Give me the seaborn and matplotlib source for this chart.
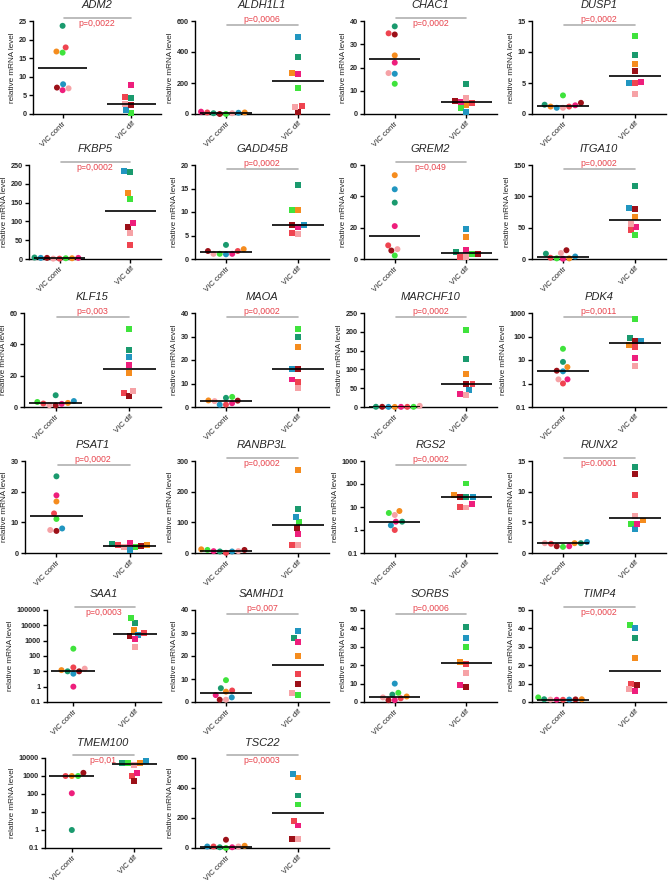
import numpy as np
import pandas as pd
import matplotlib
matplotlib.use("Agg")
import matplotlib.pyplot as plt
import seaborn as sns
from matplotlib.transforms import blended_transform_factory
from matplotlib.ticker import NullLocator

nan = np.nan
groups = ["VIC contr", "VIC dif"]
donors = ["D1", "D2", "D3", "D4", "D5", "D6", "D7", "D8"]
donor_colors = ["#1a9a6e", "#ef4450", "#f58c1e", "#3fe33c", "#2196c0", "#9c1018", "#ee1e7c", "#f6a2a6"]

genes = ["ADM2", "ALDH1L1", "CHAC1", "DUSP1", "FKBP5", "GADD45B", "GREM2", "ITGA10",
         "KLF15", "MAOA", "MARCHF10", "PDK4", "PSAT1", "RANBP3L", "RGS2", "RUNX2",
         "SAA1", "SAMHD1", "SORBS", "TIMP4", "TMEM100", "TSC22"]

p_labels = ["p=0,0022", "p=0,0006", "p=0,0002", "p=0,0002", "p=0,0002", "p=0,0002", "p=0,049", "p=0,0002",
            "p=0,003", "p=0,0002", "p=0,0002", "p=0,0011", "p=0,0002", "p=0,0002", "p=0,0002", "p=0.0001",
            "p=0,0003", "p=0,007", "p=0,0006", "p=0,0002", "p=0,01", "p=0,0003"]

p_text_above = [False, True, False, True, False, True, False, True,
                True, True, True, True, True, False, True, False,
                False, True, True, False, False, False]

log_axis = [False, False, False, False, False, False, False, False,
            False, False, False, True, False, False, True, False,
            True, False, False, False, True, False]

y_ticks = [
    [0, 5, 10, 15, 20, 25], [0, 200, 400, 600], [0, 10, 20, 30, 40], [0, 5, 10, 15],
    [0, 50, 100, 150, 200, 250], [0, 5, 10, 15, 20], [0, 20, 40, 60], [0, 50, 100, 150],
    [0, 20, 40, 60], [0, 10, 20, 30, 40], [0, 50, 100, 150, 200, 250], [0.1, 1, 10, 100, 1000],
    [0, 10, 20, 30], [0, 100, 200, 300], [0.1, 1, 10, 100, 1000], [0, 5, 10, 15],
    [0.1, 1, 10, 100, 1000, 10000, 100000], [0, 10, 20, 30, 40], [0, 10, 20, 30, 40, 50],
    [0, 10, 20, 30, 40, 50], [0.1, 1, 10, 100, 1000, 10000], [0, 200, 400, 600],
]

# values per donor (D1..D8)
contr_values = [
    [23.7, 17.9, 16.8, 16.5, 8.0, 7.1, 6.4, 6.9],
    [5, 10, 10, 0, 8, 0, 15, 5],
    [37.7, 34.7, 25.2, 13.0, 17.3, 34.2, 22.1, 17.6],
    [1.5, 1.2, 1.2, 3.0, 1.0, 1.8, 1.4, 1.0],
    [4, 1, 2, 2, 3, 3, 3, 1],
    [3.0, 1.7, 2.1, 1.1, 1.0, 1.7, 1.1, 1.1],
    [36, 8.7, 53.5, 2.2, 44.5, 5.4, 21, 6.3],
    [8.5, 2, 1, 1, 4, 14, 0.5, 9.5],
    [7.5, 2.2, 2.6, 3.2, 3.8, 1.0, 2.0, 1.2],
    [3.9, 1.0, 2.8, 4.3, 1.0, 2.7, 1.6, 2.5],
    [0.6, 0.4, 0.2, 0.5, 0.3, 0.5, 0.4, 3.0],
    [8.3, 1.0, 5.0, 30, 3.3, 3.5, 1.5, 1.5],
    [25, 12.9, 16.8, 11.1, 8.0, 7.2, 18.8, 7.5],
    [5, 0.5, 12, 10, 5, 10, 6, 6],
    [2.3, 1.0, 6.7, 5.5, 1.6, nan, 2.3, 4.5],
    [1.6, 1.5, 1.6, 1.0, 1.8, 1.1, 1.1, 1.6],
    [10, 18, 12, 300, 7, 10, 1.0, 15],
    [6, 5, 4.5, 9.5, 2, 1, 3, 1],
    [4, 2, 3, 5, 10, 1, 1, 2.5],
    [1.5, 1.2, 1.5, 2.5, 1.3, 1.4, 1.2, 1.3],
    [1, 1000, 1000, 1000, nan, 1500, 110, nan],
    [5, 10, 15, 0, 10, 55, 5, 10],
]

dif_values = [
    [4.4, 4.6, nan, 0.3, 1.0, 2.5, 7.7, 2.6],
    [370, 50, 262, 165, 495, 10, 255, 45],
    [13, 4.6, 4.0, 2.4, 0.9, 5.8, 5.3, 7.0],
    [9.5, 5.0, 8.0, 12.6, 5.0, 7.0, 5.2, 3.3],
    [231, 37, 175, 160, 233, 85, 95, 70],
    [15.8, 5.6, 10.4, 10.4, 7.2, 7.2, 6.8, 5.4],
    [4.6, 1.5, 14.2, 3.0, 19.3, 3.2, 5.8, 1.2],
    [116, 46, 67, 39, 82, 80, 51, 56],
    [36.5, 9, 21.5, 50, 32, 6.8, 26.5, 10],
    [29.6, 10.6, 25.6, 33.2, 16.2, 16.0, 11.7, 8.0],
    [127, 61, 88, 205, 46, 60, 35, 32],
    [90, 36, 43, 560, 65, 65, 12.5, 5.5],
    [2.8, 2.5, 2.5, 2.0, 1.0, 2.3, 3.2, 1.8],
    [143, 27, 272, 100, 117, 82, 63, 25],
    [28, 10, 33, 105, 28, 28, 13, 9.5],
    [14, 9.5, 5.3, 4.7, 3.9, 12.9, 4.8, 6.0],
    [15000, 3000, 5000, 30000, 2500, 2000, 1200, 400],
    [28, 12, 20, 3, 31, 8, 26, 4],
    [41, 20.8, 21.5, 30, 35, 8, 9, 16],
    [35, 10, 24, 42, 40, 9, 6, 7],
    [5000, 1000, 5000, 5000, 7000, 500, 1500, 4000],
    [350, 180, 470, 290, 495, 60, 150, 60],
]

sns.set_theme(style="ticks")
plt.rcParams["font.family"] = ["Liberation Sans", "DejaVu Sans"]

W, H = 670, 885
fig = plt.figure(figsize=(W / 100, H / 100), dpi=100)
col_left = [None, 195, 364, 532]
col_width = [None, 134, 133, 134]
first_col_left = [33, 29, 24, 25, 47, 45]
first_col_right = 161
row_top = [21, 165, 313, 461, 610, 758]
row_height = [93, 94, 94, 92, 92, 90]
palette = dict(zip(donors, donor_colors))
markers = {"VIC contr": "o", "VIC dif": "s"}
p_red = "#e8434c"

for i, gene in enumerate(genes):
    r, c = divmod(i, 4)
    if c == 0:
        left, width = first_col_left[r], first_col_right - first_col_left[r]
    else:
        left, width = col_left[c], col_width[c]
    ax = fig.add_axes([left / W, 1 - (row_top[r] + row_height[r]) / H, width / W, row_height[r] / H])
    ticks = y_ticks[i]
    if log_axis[i]:
        ax.set_yscale("log")
    ax.set_ylim(ticks[0], ticks[-1])
    df = pd.DataFrame({
        "group": [groups[0]] * len(donors) + [groups[1]] * len(donors),
        "donor": donors + donors,
        "value": contr_values[i] + dif_values[i],
    }).dropna()
    for g in groups:
        sub = df[df["group"] == g]
        sns.swarmplot(data=sub, x="group", y="value", hue="donor", order=groups,
                      hue_order=donors, palette=palette, marker=markers[g], size=4.3,
                      linewidth=0, legend=False, ax=ax, clip_on=False, zorder=3)
    for k, g in enumerate(groups):
        med = np.nanmedian(df[df["group"] == g]["value"])
        ax.hlines(med, k - 0.36, k + 0.36, color="black", lw=1.2, zorder=4)
    ax.set_xlim(-0.43, 1.43)
    ax.set_ylim(ticks[0], ticks[-1])
    ax.set_yticks(ticks)
    ax.set_yticklabels([f"{t:g}" for t in ticks], fontweight="bold")
    ax.yaxis.set_minor_locator(NullLocator())
    ax.set_xlabel("")
    ax.set_ylabel("relative mRNA level", fontsize=5.9, labelpad=2)
    sns.despine(ax=ax)
    for s in ["left", "bottom"]:
        ax.spines[s].set_linewidth(1.0)
        ax.spines[s].set_color("black")
    ax.tick_params(axis="both", length=3, width=1, color="black", pad=1.5)
    ax.tick_params(axis="y", labelsize=5.2)
    ax.tick_params(axis="x", labelsize=5.6)
    for lbl in ax.get_xticklabels():
        lbl.set_rotation(45)
        lbl.set_ha("right")
        lbl.set_rotation_mode("anchor")
    ax.text(0.5, 1.17, gene, transform=ax.transAxes, ha="center", va="center",
            style="italic", fontsize=8)
    tr = blended_transform_factory(ax.transData, ax.transAxes)
    if p_text_above[i]:
        ly, ty = 0.96, 1.02
    else:
        ly, ty = 1.035, 0.975
    ax.plot([0.02, 1.0], [ly, ly], color="#b0b0b0", lw=1.2, transform=tr, clip_on=False)
    ax.text(0.5, ty, p_labels[i], transform=tr, ha="center", va="center",
            color=p_red, fontsize=6.3)

fig.savefig("out.png", dpi=100)
